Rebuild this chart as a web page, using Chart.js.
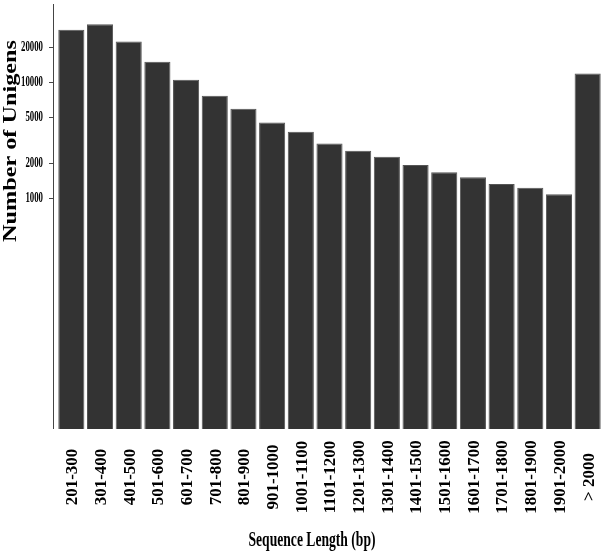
<!DOCTYPE html>
<html>
<head>
<meta charset="utf-8">
<script src="https://cdn.jsdelivr.net/npm/chart.js@4/dist/chart.umd.min.js"></script>
<style>
  html, body { margin: 0; padding: 0; background: #fff; }
  #wrap { width: 604px; height: 558px; }
</style>
</head>
<body>
<div id="wrap"><canvas id="lenChart" width="604" height="558"></canvas></div>
<script>
// length bins (bp)
var lengthBins = ['201-300', '301-400', '401-500', '501-600', '601-700', '701-800',
  '801-900', '901-1000', '1001-1100', '1101-1200', '1201-1300', '1301-1400',
  '1401-1500', '1501-1600', '1601-1700', '1701-1800', '1801-1900', '1901-2000', '> 2000']
// unigen counts
var unigenCounts = [28400, 31800, 22500, 15000, 10500, 7640, 5900, 4480, 3720, 2950,
  2550, 2265, 1920, 1665, 1505, 1320, 1220, 1075, 11900]
var yTickValues = [1000, 2000, 5000, 10000, 20000]
var yTitle = 'Number of Unigens'
var xTitle = 'Sequence Length (bp)'

var serif = '"Liberation Serif", "DejaVu Serif", serif'

// draw text squeezed to a given width (the original fonts are condensed)
function squeezeText(ctx, txt, x, y, font, w, rot) {
  ctx.save()
  ctx.font = font
  var natural = ctx.measureText(txt).width
  ctx.translate(x, y)
  if (rot) ctx.rotate(rot)
  ctx.scale(w / natural, 1)
  ctx.textAlign = 'center'
  ctx.textBaseline = 'middle'
  ctx.fillStyle = '#000'
  ctx.fillText(txt, 0, 0)
  ctx.restore()
}

const axisDecor = {
  id: 'axisDecor',
  afterDraw(chart) {
    const ctx = chart.ctx
    const area = chart.chartArea
    const ys = chart.scales.y
    const xs = chart.scales.x
    const axisX = area.left - 4
    ctx.save()
    // y axis line
    ctx.strokeStyle = '#444'
    ctx.lineWidth = 1
    ctx.beginPath()
    ctx.moveTo(axisX + 0.5, area.top)
    ctx.lineTo(axisX + 0.5, area.bottom)
    ctx.stroke()
    // tick marks and labels
    yTickValues.forEach(function (v) {
      var py = Math.round(ys.getPixelForValue(v)) + 0.5
      ctx.beginPath()
      ctx.moveTo(axisX - 4, py)
      ctx.lineTo(axisX, py)
      ctx.stroke()
      ctx.save()
      ctx.font = 'bold 14px ' + serif
      var nat = ctx.measureText(String(v)).width
      var target = String(v).length * 4.4
      ctx.translate(axisX - 10, py)
      ctx.scale(target / nat, 1)
      ctx.textAlign = 'right'
      ctx.textBaseline = 'middle'
      ctx.fillStyle = '#000'
      ctx.fillText(String(v), 0, 0)
      ctx.restore()
    })
    // x labels, centred in the band under the bars
    ctx.font = 'bold 17px ' + serif
    ctx.fillStyle = '#000'
    ctx.textAlign = 'center'
    ctx.textBaseline = 'middle'
    lengthBins.forEach(function (lab, i) {
      ctx.save()
      ctx.translate(xs.getPixelForValue(i) + 1.5, 477)
      ctx.rotate(-Math.PI / 2)
      ctx.fillText(lab, 0, 0)
      ctx.restore()
    })
    ctx.restore()
    // axis titles
    squeezeText(ctx, yTitle, 11, 141, 'bold 19px ' + serif, 202, -Math.PI / 2)
    squeezeText(ctx, xTitle, 312, 541, 'bold 20px ' + serif, 127, 0)
  }
}

const ctx = document.getElementById('lenChart').getContext('2d')
const lenChart = new Chart(ctx, {
  type: 'bar',
  data: {
    labels: lengthBins,
    datasets: [
      {
        label: 'Unigens',
        data: unigenCounts,
        backgroundColor: '#333333',
        borderColor: '#555555',
        borderWidth: 1,
        barPercentage: 0.91,
        categoryPercentage: 1.0,
      },
    ],
  },
  options: {
    responsive: false,
    animation: false,
    events: [],
    layout: { padding: { top: 4, right: 2, left: 0, bottom: 0 } },
    plugins: {
      legend: { display: false },
      tooltip: { enabled: false },
    },
    scales: {
      x: {
        grid: { display: false },
        border: { display: false },
        ticks: { display: false },
        afterFit: (s) => {
          s.height = 129
          s.paddingLeft = 0
          s.paddingRight = 0
        },
      },
      y: {
        type: 'logarithmic',
        min: 10,
        max: 47500,
        grid: { display: false },
        border: { display: false },
        ticks: { display: false },
        afterFit: (s) => { s.width = 57 },
      },
    },
  },
  plugins: [axisDecor],
})
</script>
</body>
</html>
